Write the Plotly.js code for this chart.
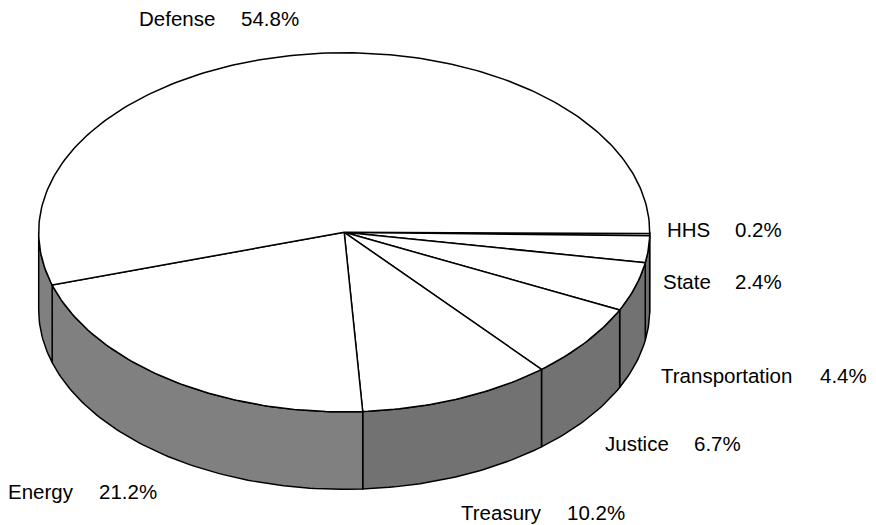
<!DOCTYPE html>
<html>
<head>
<meta charset="utf-8">
<script src="https://cdn.plot.ly/plotly-3.0.1.min.js"></script>
<style>html,body{margin:0;padding:0;background:#fff}</style>
</head>
<body>
<div id="chart" style="width:876px;height:525px"></div>
<script>
// Data
var categories = ["HHS", "State", "Transportation", "Justice", "Treasury", "Energy", "Defense"];
var shares = [0.2, 2.4, 4.4, 6.7, 10.2, 21.2, 54.8];
var wallColors = ["#727272", "#727272", "#727272", "#727272", "#727272", "#808080", "#808080"];

// Label placement (plot coordinates)
var nameX = [666.7, 663, 661, 604.5, 461, 7.7, 139.3];
var shareX = [735, 735, 819.5, 693.5, 566.5, 98.5, 241];
var labelY = [229, 281.5, 375.5, 443.5, 512.5, 491.5, 18.5];

// Pie geometry (plot coordinates)
var cx = 344.2, cy = 232.3, rx = 305.5, ry = 179.5, depth = 77.5, startDeg = 0.4;

var total = shares.reduce(function (a, b) { return a + b; }, 0);
function pt(deg, drop) {
  var r = deg * Math.PI / 180;
  return [cx + rx * Math.cos(r), cy + ry * Math.sin(r) + (drop || 0)];
}
function arc(a, b, drop) {
  var out = [], n = Math.max(2, Math.ceil(Math.abs(b - a)));
  for (var i = 0; i <= n; i++) out.push(pt(a + (b - a) * i / n, drop));
  return out;
}
function poly(points, fill) {
  return {
    type: "scatter", mode: "lines", hoverinfo: "skip", showlegend: false,
    x: points.map(function (p) { return p[0]; }),
    y: points.map(function (p) { return p[1]; }),
    fill: "toself", fillcolor: fill,
    line: { color: "#000", width: 1.5 }
  };
}

var walls = [], tops = [], annotations = [], acc = 0;
categories.forEach(function (name, i) {
  var a = startDeg + acc / total * 360, b = startDeg + (acc + shares[i]) / total * 360;
  acc += shares[i];
  if (a < 180) {
    var s = i === 0 ? 0 : a, e = Math.min(b, 180);
    walls.push(poly(arc(s, e, 0).concat(arc(e, s, depth)).concat([pt(s, 0)]), wallColors[i]));
  }
  tops.push(poly([[cx, cy]].concat(arc(a, b, 0)).concat([[cx, cy]]), "#ffffff"));
  annotations.push({ x: nameX[i], y: labelY[i], text: name });
  annotations.push({ x: shareX[i], y: labelY[i], text: shares[i].toFixed(1) + "%" });
});
annotations.forEach(function (t) {
  t.xref = "x"; t.yref = "y"; t.xanchor = "left"; t.yanchor = "middle";
  t.showarrow = false; t.borderpad = 0; t.borderwidth = 0;
});

var hidden = { visible: false, fixedrange: true };
Plotly.newPlot("chart", walls.concat(tops), {
  width: 876, height: 525,
  margin: { l: 0, r: 0, t: 0, b: 0 },
  paper_bgcolor: "#fff", plot_bgcolor: "#fff",
  font: { family: "Liberation Sans, Arial, sans-serif", size: 20.5, color: "#000" },
  xaxis: Object.assign({ range: [0, 876] }, hidden),
  yaxis: Object.assign({ range: [525, 0] }, hidden),
  annotations: annotations,
  showlegend: false
}, { displayModeBar: false, staticPlot: true });
</script>
</body>
</html>
